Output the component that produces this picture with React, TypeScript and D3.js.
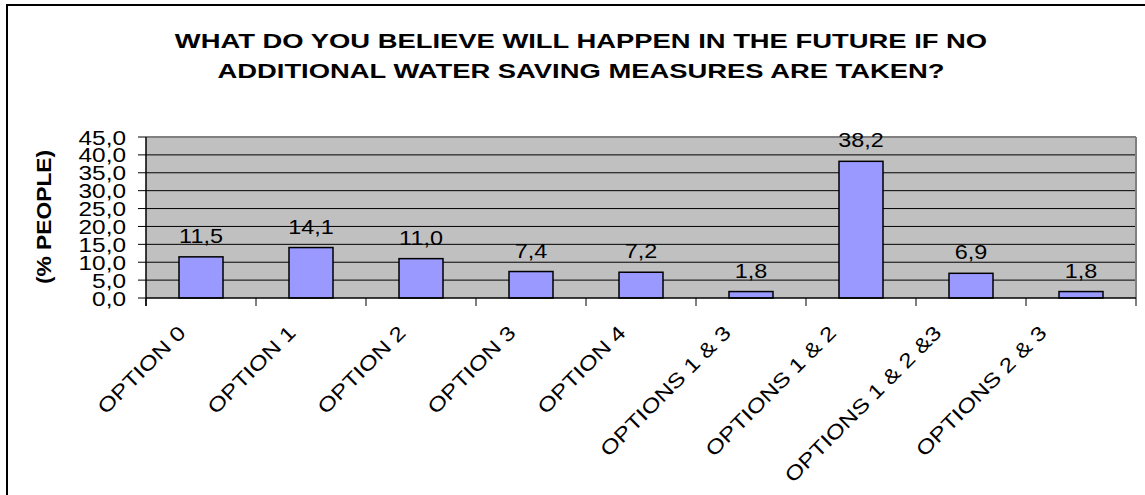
import React from "react";
import * as d3 from "d3";

const titleLines = [
  "WHAT DO YOU BELIEVE WILL HAPPEN IN THE FUTURE IF NO",
  "ADDITIONAL WATER SAVING MEASURES ARE TAKEN?",
];
const yAxisTitle = "(% PEOPLE)";
const categories = [
  "OPTION 0",
  "OPTION 1",
  "OPTION 2",
  "OPTION 3",
  "OPTION 4",
  "OPTIONS 1 & 3",
  "OPTIONS 1 & 2",
  "OPTIONS 1 & 2 &3",
  "OPTIONS 2 & 3",
];
const values = [11.5, 14.1, 11.0, 7.4, 7.2, 1.8, 38.2, 6.9, 1.8];
const yTicks = [0, 5, 10, 15, 20, 25, 30, 35, 40, 45];

const W = 1145;
const H = 495;
const FONT = "'Liberation Sans', Arial, Helvetica, sans-serif";

const plot = { left: 146, right: 1136, top: 137, bottom: 298 };

const fmt = (v: number) => d3.format(".1f")(v).replace(".", ",");

export default function App() {
  const x = d3
    .scaleBand<string>()
    .domain(categories)
    .range([plot.left, plot.right])
    .paddingInner(0.6)
    .paddingOuter(0.3);
  const y = d3.scaleLinear().domain([0, 45]).range([plot.bottom, plot.top]);
  const step = x.step();
  const boundaries = d3.range(categories.length + 1).map((i) => plot.left + i * step);
  const labelShift = (i: number) => -14 - Math.max(0, i - 4) * 4.75;

  return (
    <svg
      width={W}
      height={H}
      style={{ position: "absolute", left: 0, top: 0, background: "#fff" }}
      fontFamily={FONT}
    >
      <rect x={0} y={0} width={W} height={H} fill="#fff" />
      {/* outer border */}
      <rect x={7} y={5} width={W + 20} height={H + 20} fill="none" stroke="#000" strokeWidth={2} />

      {/* title */}
      {titleLines.map((t, i) => (
        <text
          key={i}
          transform={`translate(581,${48 + i * 29.5}) scale(1.37,1)`}
          textAnchor="middle"
          fontSize={20}
          fontWeight="bold"
          fill="#000"
        >
          {t}
        </text>
      ))}

      {/* plot background */}
      <rect
        x={plot.left}
        y={plot.top}
        width={plot.right - plot.left}
        height={plot.bottom - plot.top}
        fill="#C0C0C0"
      />
      {/* gridlines */}
      {yTicks
        .filter((t) => t > 0 && t < 45)
        .map((t) => (
          <line key={t} x1={plot.left} x2={plot.right} y1={y(t)} y2={y(t)} stroke="#000" strokeWidth={1} />
        ))}
      {/* plot top & right border (gray) */}
      <line x1={plot.left} x2={plot.right} y1={plot.top} y2={plot.top} stroke="#808080" strokeWidth={2} />
      <line x1={plot.right} x2={plot.right} y1={plot.top} y2={plot.bottom} stroke="#808080" strokeWidth={2} />

      {/* bars */}
      {categories.map((c, i) => (
        <rect
          key={c}
          x={x(c)!}
          y={y(values[i])}
          width={x.bandwidth()}
          height={y(0) - y(values[i])}
          fill="#9999FF"
          stroke="#000"
          strokeWidth={1.5}
        />
      ))}

      {/* data labels */}
      {categories.map((c, i) => (
        <text
          key={c}
          transform={`translate(${x(c)! + x.bandwidth() / 2},${y(values[i]) - 14}) scale(1.17,1)`}
          textAnchor="middle"
          fontSize={20}
          fill="#000"
        >
          {fmt(values[i])}
        </text>
      ))}

      {/* y axis */}
      <line x1={plot.left} x2={plot.left} y1={plot.top} y2={plot.bottom + 8} stroke="#000" strokeWidth={1.5} />
      {yTicks.map((t) => (
        <g key={t}>
          <line x1={plot.left - 8} x2={plot.left} y1={y(t)} y2={y(t)} stroke="#000" strokeWidth={1} />
          <text
            transform={`translate(126,${y(t) + 7.5}) scale(1.19,1)`}
            textAnchor="end"
            fontSize={20.5}
            fill="#000"
          >
            {fmt(t)}
          </text>
        </g>
      ))}
      <text
        transform={`translate(51,217) rotate(-90) scale(1.14,1)`}
        textAnchor="middle"
        fontSize={20}
        fontWeight="bold"
        fill="#000"
      >
        {yAxisTitle}
      </text>

      {/* x axis */}
      <line x1={plot.left} x2={plot.right} y1={plot.bottom} y2={plot.bottom} stroke="#000" strokeWidth={1.5} />
      {boundaries.map((b, i) => (
        <line key={i} x1={b} x2={b} y1={plot.bottom} y2={plot.bottom + 8} stroke="#000" strokeWidth={1} />
      ))}
      {categories.map((c, i) => (
        <text
          key={c}
          transform={`translate(${x(c)! + x.bandwidth() / 2 + labelShift(i)},${plot.bottom + 36}) rotate(-45) scale(1.23,1)`}
          textAnchor="end"
          fontSize={20}
          fill="#000"
        >
          {c}
        </text>
      ))}
    </svg>
  );
}
